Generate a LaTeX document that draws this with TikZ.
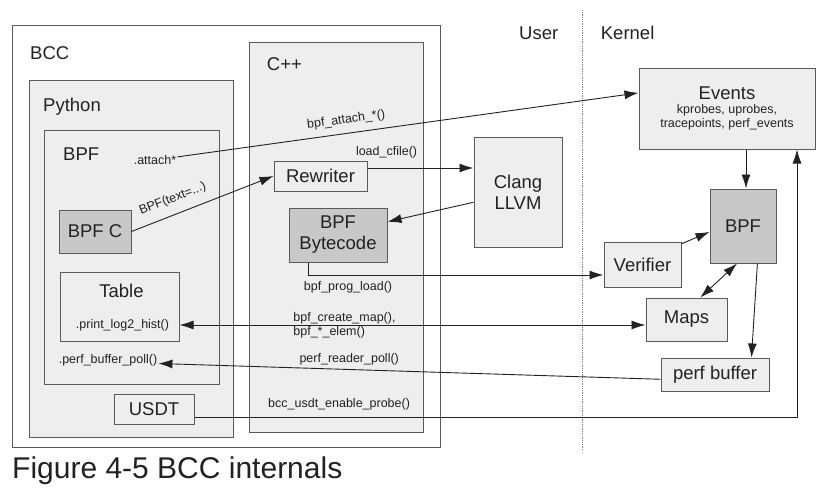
\documentclass[tikz,border=0pt]{standalone}
\usepackage{fontspec}
\setmainfont{Liberation Sans}
\usetikzlibrary{arrows.meta, positioning}

\definecolor{boxline}{HTML}{5A5A5A}
\definecolor{lightfill}{HTML}{EEEEEE}
\definecolor{darkfill}{HTML}{C8C8C8}
\definecolor{wirecol}{HTML}{222222}
\definecolor{textcol}{HTML}{222222}
\newcommand{\bigfont}{\fontsize{18.5}{21}\selectfont}
\newcommand{\smallfont}{\fontsize{12.5}{14}\selectfont}
\newcommand{\capfont}{\fontsize{30}{33}\selectfont}

\tikzset{
  box/.style={draw=boxline, fill=lightfill, line width=1pt, inner sep=0pt,
    font=\bigfont, text=textcol, align=center},
  darkbox/.style={box, fill=darkfill},
  title/.style={anchor=base west, inner sep=0pt, font=\bigfont, text=textcol},
  lbl/.style={inner sep=1pt, font=\smallfont, text=textcol},
  wire/.style={draw=wirecol, line width=0.9pt},
  divider/.style={draw=gray, densely dotted, line width=0.8pt},
  >={Latex[length=14pt,width=9pt]}
}

\begin{document}
\begin{tikzpicture}[x=1pt, y=-1pt]
  \useasboundingbox (0,0) rectangle (835,496);

  % containers
  \node[box, fill=white, minimum width=428pt, minimum height=422pt] (bcc) at (226,236) {};
  \node[box, minimum width=204pt, minimum height=357pt] (python) at (131,258.5) {};
  \node[box, minimum width=175pt, minimum height=254pt] (bpfbox) at (131.5,257) {};
  \node[box, minimum width=174pt, minimum height=390pt] (cpp) at (336,237) {};

  \node[title] (bcclbl) at (30,59) {BCC};
  \node[title] (pylbl) at (43,111.7) {Python};
  \node[title] (bpflbl) at (63,160) {BPF};
  \node[title] (cpplbl) at (266.7,70.7) {C++};
  \node[title] (userlbl) at (519,39.3) {User};
  \node[title] (kernlbl) at (600.7,39.3) {Kernel};

  % user side
  \node[lbl] (attach) at (155,160) {.attach*};
  \node[darkbox, minimum width=72pt, minimum height=43pt] (bpfc) at (95,231.5) {BPF C};
  \node[box, minimum width=119pt, minimum height=69pt] (table) at (119.5,306.5) {};
  \node[inner sep=0pt, font=\bigfont, text=textcol] (tabletitle) at (121.5,290.8) {Table};
  \node[lbl] (hist) at (122.5,325) {.print\_log2\_hist()};
  \node[lbl] (pbp) at (108,360.5) {.perf\_buffer\_poll()};
  \node[box, minimum width=80pt, minimum height=30pt] (usdt) at (154,409) {USDT};
  \node[box, minimum width=93pt, minimum height=30pt] (rewriter) at (320.5,176) {Rewriter};
  \node[darkbox, minimum width=98pt, minimum height=54pt] (bytecode) at (338,235) {BPF\\Bytecode};
  \node[box, minimum width=88pt, minimum height=110pt] (clang) at (518,192) {Clang\\LLVM};

  % kernel side
  \node[box, font=\smallfont, minimum width=176pt, minimum height=81pt] (events) at (727,108.5)
    {{\bigfont Events}\\kprobes, uprobes,\\tracepoints, perf\_events};
  \node[darkbox, minimum width=66pt, minimum height=74pt] (bpfk) at (743,226) {BPF};
  \node[box, minimum width=77pt, minimum height=45pt] (verifier) at (642.5,264.5) {Verifier};
  \node[box, minimum width=81pt, minimum height=43pt] (maps) at (686.5,319.5) {Maps};
  \node[box, minimum width=108pt, minimum height=33pt] (perfbuf) at (715,374.5) {perf buffer};

  \coordinate (divtop) at (582,10);
  \coordinate (divbot) at (582,451);
  \draw[divider] (divtop) -- (divbot);

  % connectors
  \coordinate (lc) at ([yshift=8pt]rewriter.east);
  \coordinate (pl) at ([xshift=20pt]bytecode.south west);
  \coordinate (pv) at ([yshift=-10.5pt]verifier.west);
  \coordinate (ue) at ([yshift=-8pt]usdt.east);
  \coordinate (eb) at ([xshift=70pt]events.south);
  \coordinate (ek) at ([xshift=3pt]events.south -| bpfk.north);

  \draw[wire, ->] (attach) -- node[lbl, sloped, above=6pt, pos=0.37] {bpf\_attach\_*()} (events.170);
  \draw[wire, ->] (bpfc.east) -- node[lbl, sloped, above=8pt, pos=0.33] {BPF(text=...)} (rewriter.west);
  \draw[wire, ->] (lc) -- node[lbl, above=8pt, pos=0.18] {load\_cfile()} (lc -| clang.west);
  \draw[wire, ->] (clang.193) -- (bytecode.15);
  \draw[wire, ->] (pl) |- node[lbl, below=5pt, pos=0.567] {bpf\_prog\_load()} (pv);
  \draw[wire, <->] (table.east |- hist) -- node[lbl, align=left, pos=0.354] {bpf\_create\_map(),\\bpf\_*\_elem()} (maps.west |- hist);
  \draw[wire, ->] (perfbuf.185) -- node[lbl, above=3pt, pos=0.62] {perf\_reader\_poll()} ([yshift=-3pt]pbp.east);
  \draw[wire, ->] (ue) -| node[lbl, above=5pt, pos=0.12] {bcc\_usdt\_enable\_probe()} (eb);

  \draw[wire, ->] (ek) -- (ek |- bpfk.north);
  \draw[wire, ->] (verifier.28) -- (bpfk.190);
  \draw[wire, <->] (maps.58) -- (bpfk.261);
  \draw[wire, ->] (bpfk.291) -- (perfbuf.25);

  \node[anchor=base west, inner sep=0pt, font=\capfont, text=textcol] (caption) at (12,478) {Figure 4-5 BCC internals};
\end{tikzpicture}
\end{document}
